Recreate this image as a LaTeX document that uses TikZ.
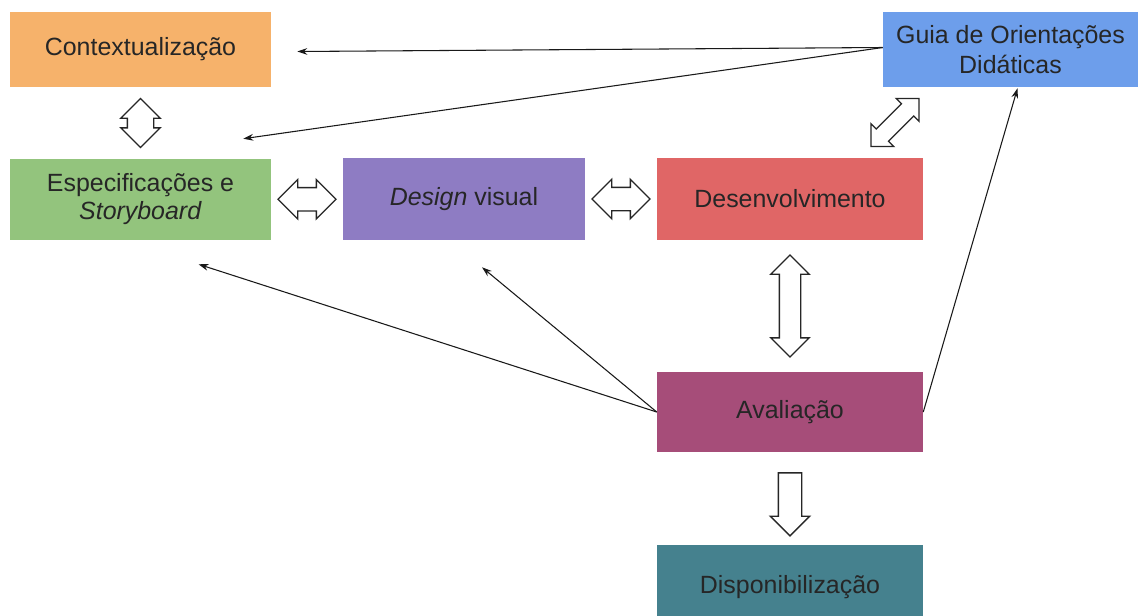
\documentclass[tikz,border=0pt]{standalone}
\usepackage{fontspec}
\setmainfont{Liberation Sans}
\usetikzlibrary{
  arrows.meta,
  shapes.arrows, % Shapes "single arrow", "double arrow"
  calc,          % Calculations $...$
}
\def\px{0.75pt}
\definecolor{ctxorange}{HTML}{F6B26B}
\definecolor{guiablue}{HTML}{6D9EEB}
\definecolor{espgreen}{HTML}{93C47D}
\definecolor{dsgpurple}{HTML}{8E7CC3}
\definecolor{devred}{HTML}{E06666}
\definecolor{avalmaroon}{HTML}{A64D79}
\definecolor{dispteal}{HTML}{45818E}
\tikzset{
  >={Stealth[length=7.5pt,width=5pt]},
  my box/.style={
    rectangle,
    draw=none,
    align=center,
    inner sep=0mm,
    text=black!85,
    font=\fontsize{18.7}{21}\selectfont
  },
  my block/.style={
    draw=black!85,
    fill=white,
    line width=1pt,
    inner xsep=0mm,
    anchor=center
  },
  my single/.style={
    my block,
    single arrow,
    inner ysep=11*\px,
    single arrow head extend=8*\px
  },
  my double/.style={
    my block,
    double arrow,
    inner ysep=11*\px,
    double arrow head extend=8*\px
  },
  thin arrow/.style={
    line width=0.8pt,
    color=black!90
  }
}
\begin{document}
\begin{tikzpicture}[x=\px,y=-\px]
\useasboundingbox (0,0) rectangle (1141,615);
% boxes
\node[my box,fill=ctxorange,minimum width=261*\px,minimum height=75*\px] (ctx) at (140.5,49.5) {Contextualização};
\node[my box,fill=guiablue,minimum width=255*\px,minimum height=75*\px] (guia) at (1010.5,49.5) {Guia de Orientações\\[2pt]Didáticas};
\node[my box,fill=espgreen,minimum width=261*\px,minimum height=81*\px] (esp) at (140.5,199.5) {Especificações e\\\textit{Storyboard}};
\node[my box,fill=dsgpurple,minimum width=242*\px,minimum height=82*\px] (design) at (464,199) {\textit{Design} visual};
\node[my box,fill=devred,minimum width=266*\px,minimum height=82*\px] (desenv) at (790,199) {Desenvolvimento};
\node[my box,fill=avalmaroon,minimum width=266*\px,minimum height=80*\px] (aval) at (790,412) {Avaliação};
\node[my box,fill=dispteal,minimum width=266*\px,minimum height=84*\px] (disp) at (790,587) {Disponibilização};
% block arrows
\node[my double,rotate=90,minimum height=49*\px,inner ysep=12.5*\px,double arrow head extend=6.5*\px]
  (ctxesp) at ($(ctx.south)!0.5!(esp.north)$) {};
\node[my double,minimum height=58*\px] (espdsg) at ($(esp.east)!0.5!(design.west)$) {};
\node[my double,minimum height=58*\px] (dsgdev) at ($(design.east)!0.5!(desenv.west)$) {};
\node[my double,rotate=90,minimum height=102*\px,inner ysep=10*\px,double arrow head extend=8.5*\px]
  (devaval) at ($(desenv.south)!0.5!(aval.north)$) {};
\node[my single,rotate=-90,minimum height=63*\px] (avaldisp) at ($(aval.south)!0.5!(disp.north)$) {};
\node[my double,rotate=45,minimum height=68*\px,inner ysep=8*\px,double arrow head extend=7.5*\px]
  (guiadev) at ($(desenv.north east)!0.5!(guia.south west)+(-8,0)$) {};
% free ends of the thin arrows
\coordinate (ctx tip)    at ($(ctx.east)+(26,2)$);
\coordinate (esp tip)    at ($(esp.north east)+(-28,-20)$);
\coordinate (esp tip2)   at ($(esp.south)+(58,24)$);
\coordinate (design tip) at ($(design.south)+(18,27)$);
\coordinate (guia tip)   at ($(guia.south)+(7,1)$);
\path[->,thin arrow]
  ($(guia.west)+(0,-2)$) edge (ctx tip)
                         edge (esp tip)
  (aval.west) edge (esp tip2)
              edge (design tip)
  (aval.east) edge (guia tip);
\end{tikzpicture}
\end{document}
